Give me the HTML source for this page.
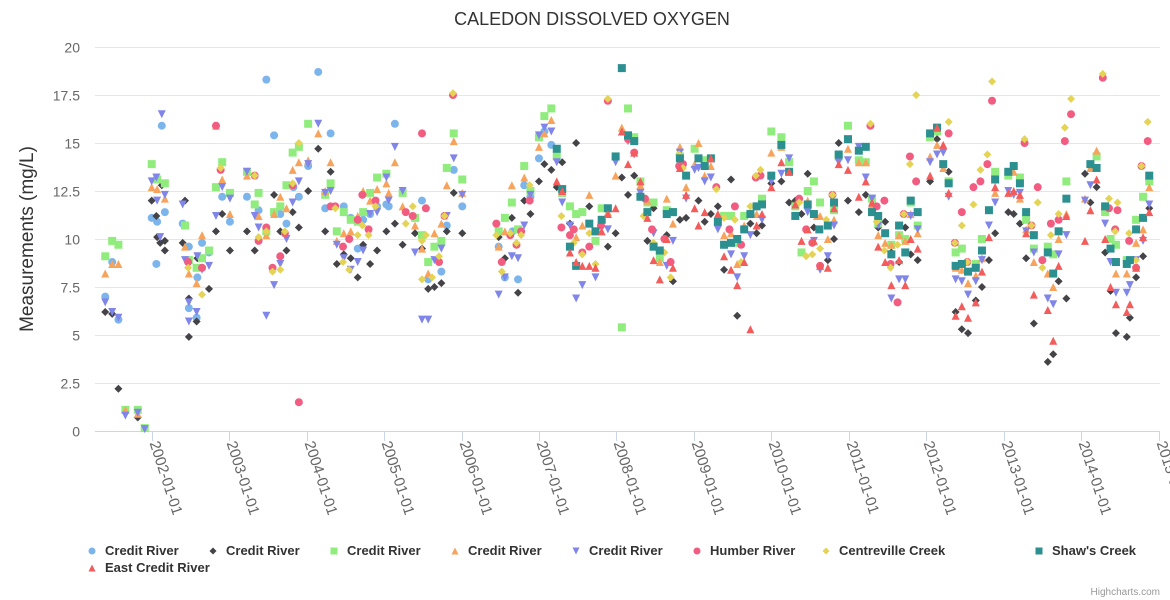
<!DOCTYPE html>
<html><head><meta charset="utf-8">
<style>
html,body{margin:0;padding:0;background:#fff;}
svg{display:block;font-family:"Liberation Sans",sans-serif;}
</style></head>
<body>
<svg id="chart" width="1170" height="600" viewBox="0 0 1170 600" xmlns="http://www.w3.org/2000/svg">
<text x="592" y="25" text-anchor="middle" font-size="18" fill="#333">CALEDON DISSOLVED OXYGEN</text>
<text transform="translate(33,239) rotate(-90)" text-anchor="middle" font-size="19" fill="#333">Measurements (mg/L)</text>
<g id="grid"></g>
<g id="xaxis"></g>
<g id="points"></g>
<g id="legend"></g>
<text x="1160" y="595" text-anchor="end" font-size="10" fill="#999">Highcharts.com</text>
</svg>
<script>
const yTicks = [0, 2.5, 5, 7.5, 10, 12.5, 15, 17.5, 20];
const yTickLabels = ["0","2.5","5","7.5","10","12.5","15","17.5","20"];
const xTickYears = [2002,2003,2004,2005,2006,2007,2008,2009,2010,2011,2012,2013,2014,2015];
const xTickLabels = ["2002-01-01","2003-01-01","2004-01-01","2005-01-01","2006-01-01","2007-01-01","2008-01-01","2009-01-01","2010-01-01","2011-01-01","2012-01-01","2013-01-01","2014-01-01","2015-01-01"];
const seriesNames = ["Credit River","Credit River","Credit River","Credit River","Credit River","Humber River","Centreville Creek","Shaw's Creek","East Credit River"];

const creditCircle = [[2001.40,7.0],[2001.49,8.8],[2001.57,5.8],[2002.06,8.7],[2002.0,11.1],[2002.07,10.9],[2002.13,15.9],[2002.17,11.4],[2002.40,10.8],[2002.48,9.6],[2002.48,6.4],[2002.58,5.9],[2002.59,8.0],[2002.65,9.8],[2002.74,9.3],[2002.91,12.2],[2003.01,10.9],[2003.23,12.2],[2003.38,11.5],[2003.48,18.3],[2003.58,15.4],[2003.66,11.3],[2003.74,10.8],[2003.83,12.7],[2003.90,12.2],[2004.02,13.8],[2004.15,18.7],[2004.31,15.5],[2004.24,11.6],[2004.48,11.7],[2004.57,11.1],[2004.66,9.5],[2004.73,11.0],[2004.82,11.3],[2004.91,11.7],[2005.03,11.8],[2005.06,11.7],[2005.14,16.0],[2005.49,12.0],[2005.57,7.9],[2005.74,8.3],[2005.81,10.7],[2005.90,13.6],[2006.01,11.7],[2006.48,9.6],[2006.56,8.0],[2006.73,7.9],[2006.66,10.4],[2006.81,12.8],[2006.89,12.2],[2007.0,14.2],[2007.07,15.6],[2007.16,14.9]];
const creditDiamond = [[2001.40,6.2],[2001.49,6.1],[2001.57,2.2],[2001.82,0.7],[2002.0,12.0],[2002.06,11.2],[2002.07,10.1],[2002.11,9.8],[2002.13,12.8],[2002.17,9.9],[2002.17,9.4],[2002.40,9.8],[2002.43,12.0],[2002.48,6.9],[2002.48,4.9],[2002.58,5.7],[2002.59,9.0],[2002.74,7.4],[2002.83,10.4],[2002.91,11.3],[2003.01,9.4],[2003.23,10.4],[2003.33,9.4],[2003.58,12.3],[2003.66,10.4],[2003.74,9.4],[2003.82,11.4],[2003.90,10.6],[2004.02,12.5],[2004.15,14.7],[2004.24,10.4],[2004.31,13.5],[2004.39,8.7],[2004.48,9.2],[2004.57,9.0],[2004.66,8.0],[2004.73,9.7],[2004.82,8.7],[2004.91,9.4],[2005.03,10.4],[2005.14,10.8],[2005.24,9.7],[2005.40,10.3],[2005.49,9.5],[2005.57,7.4],[2005.65,7.5],[2005.74,7.7],[2005.81,10.4],[2005.90,12.4],[2006.01,10.3],[2006.48,10.1],[2006.56,9.0],[2006.65,11.1],[2006.73,7.2],[2006.81,12.0],[2006.89,11.3],[2007.0,13.0],[2007.07,13.9],[2007.16,13.6],[2007.23,12.7],[2007.30,14.0],[2007.48,15.0],[2007.40,10.8],[2007.65,11.7],[2007.81,10.9],[2007.89,9.6],[2007.99,10.3],[2008.07,13.2],[2008.15,12.3],[2008.23,13.3],[2008.31,12.6],[2008.40,9.9],[2008.48,11.6],[2008.65,10.2],[2008.73,7.8],[2008.82,11.0],[2008.90,11.1],[2009.06,12.0],[2009.14,10.9],[2009.22,11.3],[2009.31,11.7],[2009.39,8.4],[2009.48,13.1],[2009.56,6.0],[2009.73,10.8],[2009.81,10.3],[2009.88,10.7],[2010.0,12.9],[2010.13,13.0],[2010.23,11.9],[2010.31,12.0],[2010.39,11.3],[2010.47,13.4],[2010.55,10.6],[2010.73,8.9],[2010.81,10.0],[2010.87,15.0],[2010.99,12.0],[2011.13,11.4],[2011.22,12.3],[2011.38,10.6],[2011.47,10.9],[2011.55,9.3],[2011.65,8.8],[2011.73,10.6],[2011.80,9.2],[2011.89,8.9],[2012.05,13.0],[2012.14,15.2],[2012.29,13.5],[2012.38,6.2],[2012.46,5.3],[2012.54,5.1],[2012.64,6.8],[2012.72,7.5],[2012.81,8.9],[2012.89,10.3],[2013.06,11.4],[2013.13,11.3],[2013.21,10.8],[2013.29,9.0],[2013.39,5.6],[2013.57,3.6],[2013.64,4.0],[2013.71,7.8],[2013.81,6.9],[2014.05,13.4],[2014.12,11.9],[2014.20,12.7],[2014.31,9.3],[2014.38,7.3],[2014.45,5.1],[2014.59,4.9],[2014.63,5.9],[2014.71,8.0],[2014.80,9.1],[2014.88,11.6]];
const creditSquare = [[2001.40,9.1],[2001.49,9.9],[2001.57,9.7],[2001.66,1.1],[2001.82,1.1],[2001.91,0.15],[2002.0,13.9],[2002.07,13.1],[2002.17,12.9],[2002.43,10.7],[2002.48,8.9],[2002.58,8.5],[2002.65,9.0],[2002.74,9.4],[2002.83,12.7],[2002.91,14.0],[2003.01,12.4],[2003.23,13.5],[2003.33,11.8],[2003.38,12.4],[2003.48,10.4],[2003.58,11.4],[2003.66,11.7],[2003.74,12.8],[2003.82,14.5],[2003.90,14.8],[2004.02,16.0],[2004.24,12.3],[2004.31,12.9],[2004.39,10.4],[2004.48,11.4],[2004.57,11.0],[2004.66,10.9],[2004.73,11.4],[2004.82,12.4],[2004.91,13.2],[2005.03,13.4],[2005.24,12.4],[2005.40,11.1],[2005.49,10.2],[2005.57,8.8],[2005.65,9.6],[2005.74,9.9],[2005.81,13.7],[2005.90,15.5],[2006.01,13.1],[2006.48,10.4],[2006.56,11.1],[2006.65,11.9],[2006.73,10.5],[2006.81,13.8],[2006.89,12.5],[2007.0,15.3],[2007.07,16.4],[2007.16,16.8],[2007.23,14.3],[2007.30,12.4],[2007.40,11.7],[2007.48,11.3],[2007.56,11.4],[2007.73,9.9],[2007.81,11.6],[2008.07,5.4],[2008.15,16.8],[2008.23,15.3],[2008.31,13.0],[2008.40,11.9],[2008.48,11.9],[2008.56,9.0],[2008.65,11.5],[2008.73,11.4],[2008.82,14.3],[2009.01,14.7],[2009.14,14.1],[2009.39,11.2],[2009.48,11.2],[2009.56,9.8],[2009.65,11.2],[2009.88,12.1],[2010.0,15.6],[2010.13,15.3],[2010.23,14.0],[2010.31,11.7],[2010.39,9.3],[2010.47,12.5],[2010.55,13.0],[2010.63,11.9],[2010.81,11.5],[2010.87,14.3],[2010.99,15.9],[2011.13,14.1],[2011.22,14.0],[2011.30,12.1],[2011.38,10.8],[2011.55,9.7],[2011.65,10.2],[2011.73,10.0],[2011.80,11.9],[2011.89,10.7],[2012.05,15.3],[2012.14,15.6],[2012.29,13.0],[2012.38,9.3],[2012.46,9.5],[2012.64,8.7],[2012.72,10.0],[2012.89,13.5],[2013.06,13.3],[2013.21,13.2],[2013.29,11.0],[2013.39,9.5],[2013.57,9.6],[2013.64,9.2],[2013.81,13.0],[2014.20,14.3],[2014.31,11.4],[2014.38,10.0],[2014.45,9.7],[2014.59,8.9],[2014.71,11.0],[2014.80,12.2],[2014.88,13.0]];
const creditTriangle = [[2001.40,8.2],[2001.49,8.7],[2001.57,8.7],[2001.66,1.1],[2001.82,0.9],[2002.0,12.7],[2002.07,12.6],[2002.17,12.1],[2002.43,9.6],[2002.48,8.2],[2002.58,7.7],[2002.65,10.2],[2002.83,15.9],[2002.91,13.1],[2003.01,11.3],[2003.23,13.3],[2003.38,11.2],[2003.48,10.2],[2003.58,11.3],[2003.66,12.2],[2003.74,11.6],[2003.82,13.6],[2003.90,14.0],[2004.02,14.1],[2004.15,15.5],[2004.31,14.0],[2004.24,12.5],[2004.39,9.9],[2004.48,10.3],[2004.57,10.4],[2004.66,11.2],[2004.73,12.5],[2004.82,12.0],[2004.91,12.6],[2005.03,12.9],[2005.06,12.4],[2005.14,14.0],[2005.24,11.7],[2005.40,10.7],[2005.49,9.5],[2005.57,8.2],[2005.65,10.3],[2005.74,10.8],[2005.81,12.8],[2005.90,15.1],[2006.01,12.4],[2006.48,9.6],[2006.56,10.4],[2006.65,12.8],[2006.81,13.2],[2007.0,14.8],[2007.07,15.5],[2007.16,16.2],[2007.48,10.1],[2007.56,10.7],[2007.65,12.3],[2007.73,10.4],[2007.89,11.4],[2007.99,13.3],[2008.07,15.8],[2008.31,12.8],[2008.40,12.0],[2008.56,8.8],[2008.65,12.1],[2008.73,10.8],[2008.82,14.8],[2008.90,12.7],[2009.01,13.9],[2009.06,15.0],[2009.14,13.3],[2009.22,13.8],[2009.39,10.2],[2009.48,10.3],[2009.56,8.7],[2009.65,10.7],[2009.73,11.4],[2009.81,11.3],[2010.0,14.5],[2010.13,14.8],[2010.31,11.8],[2010.47,12.0],[2010.59,11.2],[2010.63,11.2],[2010.73,10.0],[2010.81,11.0],[2010.99,14.7],[2011.13,14.0],[2011.22,14.0],[2011.30,11.8],[2011.38,10.2],[2011.47,9.8],[2011.55,9.7],[2011.65,10.2],[2011.73,9.9],[2011.80,11.3],[2011.89,10.3],[2012.05,14.3],[2012.14,14.9],[2012.22,13.7],[2012.38,8.5],[2012.46,8.4],[2012.54,7.7],[2012.64,8.1],[2012.72,9.0],[2012.89,12.4],[2013.13,13.5],[2013.21,12.1],[2013.29,10.5],[2013.39,8.8],[2013.57,8.2],[2013.64,7.5],[2013.71,10.0],[2013.81,11.3],[2014.05,12.1],[2014.12,13.7],[2014.20,14.6],[2014.31,11.7],[2014.45,8.2],[2014.59,8.2],[2014.71,9.8],[2014.80,10.5],[2014.88,12.7]];
const creditTriangleDown = [[2001.40,6.7],[2001.49,6.2],[2001.57,5.9],[2001.66,0.8],[2001.82,0.95],[2001.91,0.1],[2002.0,13.0],[2002.06,13.2],[2002.07,12.0],[2002.13,16.5],[2002.17,12.3],[2002.11,10.1],[2002.40,11.8],[2002.43,8.9],[2002.48,6.7],[2002.48,5.7],[2002.58,6.2],[2002.59,9.1],[2002.65,8.4],[2002.74,8.6],[2002.83,11.2],[2002.91,12.7],[2003.01,12.1],[2003.23,13.5],[2003.33,11.2],[2003.38,10.6],[2003.48,6.0],[2003.58,7.6],[2003.66,8.7],[2003.74,10.0],[2003.82,11.9],[2003.90,13.0],[2004.02,13.9],[2004.15,16.0],[2004.24,12.4],[2004.31,12.5],[2004.39,9.7],[2004.48,9.0],[2004.57,8.4],[2004.66,8.8],[2004.73,9.4],[2004.82,11.3],[2004.91,11.4],[2005.03,13.2],[2005.06,12.0],[2005.14,14.8],[2005.24,12.5],[2005.40,9.3],[2005.49,5.8],[2005.57,5.8],[2005.65,8.9],[2005.74,9.5],[2005.81,11.2],[2005.90,14.2],[2006.01,12.3],[2006.48,7.1],[2006.56,8.0],[2006.65,9.1],[2006.73,9.0],[2006.81,10.7],[2006.89,12.3],[2007.0,15.4],[2007.07,15.8],[2007.16,15.6],[2007.23,14.0],[2007.30,11.9],[2007.40,10.7],[2007.48,6.9],[2007.56,7.6],[2007.73,8.0],[2007.89,10.5],[2007.99,14.0],[2008.15,15.1],[2008.23,14.4],[2008.31,12.4],[2008.48,10.3],[2008.56,9.4],[2008.65,8.6],[2008.73,9.9],[2008.82,14.5],[2008.90,12.1],[2009.01,13.6],[2009.06,13.7],[2009.14,13.0],[2009.22,13.2],[2009.31,10.5],[2009.48,9.2],[2009.56,8.0],[2009.65,9.1],[2009.73,10.2],[2009.88,11.0],[2010.0,13.0],[2010.13,13.4],[2010.23,14.2],[2010.47,11.4],[2010.55,9.9],[2010.63,8.4],[2010.73,9.1],[2010.81,10.7],[2010.87,14.0],[2010.99,14.1],[2011.13,14.8],[2011.22,13.2],[2011.30,12.1],[2011.38,10.7],[2011.55,6.9],[2011.65,7.9],[2011.73,7.9],[2011.80,11.2],[2011.89,10.5],[2012.05,14.0],[2012.14,14.4],[2012.22,14.5],[2012.29,12.2],[2012.38,7.9],[2012.46,7.8],[2012.54,7.1],[2012.64,7.8],[2012.72,8.9],[2012.81,10.7],[2012.89,11.9],[2013.06,12.5],[2013.13,12.3],[2013.21,12.4],[2013.29,10.4],[2013.39,9.3],[2013.57,6.9],[2013.64,6.6],[2013.71,9.2],[2013.81,10.2],[2014.05,12.0],[2014.12,12.8],[2014.20,13.7],[2014.31,10.8],[2014.38,8.8],[2014.45,7.2],[2014.59,7.2],[2014.63,7.6],[2014.71,8.9],[2014.80,9.9],[2014.88,11.8]];
const humberRiver = [[2002.47,8.8],[2002.65,8.5],[2002.83,15.9],[2002.89,13.6],[2003.33,13.3],[2003.48,10.6],[2003.38,9.9],[2003.66,9.1],[2003.56,8.5],[2003.72,10.3],[2003.82,12.8],[2003.90,1.5],[2004.31,11.7],[2004.37,11.7],[2004.47,9.6],[2004.55,10.0],[2004.66,11.0],[2004.72,12.3],[2004.80,10.5],[2004.89,12.0],[2005.28,11.4],[2005.37,11.2],[2005.49,15.5],[2005.54,11.6],[2005.71,8.8],[2005.78,11.2],[2005.89,17.5],[2006.45,10.8],[2006.52,8.8],[2006.63,10.2],[2006.71,9.7],[2006.77,10.4],[2006.88,12.0],[2007.29,10.6],[2007.40,10.2],[2007.45,10.5],[2007.56,9.3],[2007.65,9.6],[2007.80,10.7],[2007.89,17.2],[2008.15,15.2],[2008.23,14.5],[2008.31,12.2],[2008.37,12.1],[2008.46,10.5],[2008.62,10.0],[2008.70,8.8],[2008.81,13.8],[2008.86,13.9],[2009.29,12.7],[2009.46,10.5],[2009.53,11.7],[2009.61,9.7],[2009.80,13.2],[2009.86,13.3],[2010.36,12.1],[2010.45,10.5],[2010.53,9.8],[2010.63,8.6],[2010.79,12.3],[2011.28,15.9],[2011.36,11.7],[2011.46,12.0],[2011.54,8.7],[2011.63,6.7],[2011.71,11.3],[2011.79,14.3],[2011.87,13.0],[2012.29,15.5],[2012.37,9.8],[2012.46,11.4],[2012.53,8.8],[2012.61,12.7],[2012.70,13.0],[2012.79,13.9],[2012.85,17.2],[2013.27,15.0],[2013.36,10.7],[2013.44,12.7],[2013.50,8.9],[2013.61,10.8],[2013.71,11.0],[2013.79,15.1],[2013.87,16.5],[2014.28,18.4],[2014.36,11.6],[2014.47,11.5],[2014.44,10.5],[2014.62,9.9],[2014.71,8.5],[2014.78,13.8],[2014.86,15.1]];
const centrevilleCreek = [[2002.47,8.5],[2002.65,7.1],[2002.89,13.7],[2003.33,13.3],[2003.38,10.1],[2003.48,10.4],[2003.56,8.3],[2003.66,8.4],[2003.72,10.4],[2003.82,12.9],[2003.90,15.0],[2004.37,11.6],[2004.47,8.8],[2004.55,8.4],[2004.66,10.2],[2004.72,10.7],[2004.80,10.2],[2004.89,11.7],[2005.28,10.8],[2005.37,11.7],[2005.49,9.9],[2005.54,10.2],[2005.49,7.9],[2005.62,8.0],[2005.71,9.1],[2005.78,11.2],[2005.89,17.6],[2006.45,10.2],[2006.52,8.3],[2006.63,10.3],[2006.71,9.8],[2006.77,10.2],[2006.88,12.8],[2007.29,11.2],[2007.45,9.8],[2007.56,9.2],[2007.65,10.3],[2007.73,8.7],[2007.89,17.3],[2008.35,11.2],[2008.48,9.8],[2008.55,9.4],[2008.62,9.3],[2008.70,8.0],[2008.81,14.4],[2008.86,13.7],[2009.29,12.6],[2009.39,11.1],[2009.53,11.0],[2009.61,8.8],[2009.73,11.7],[2009.80,13.3],[2009.86,13.6],[2010.36,11.9],[2010.45,9.1],[2010.53,9.2],[2010.63,9.5],[2010.71,11.0],[2010.79,12.3],[2011.28,16.0],[2011.36,10.9],[2011.46,9.4],[2011.54,8.5],[2011.63,9.7],[2011.71,11.3],[2011.79,13.9],[2011.87,17.5],[2012.29,16.1],[2012.37,9.8],[2012.46,10.7],[2012.53,8.8],[2012.61,11.8],[2012.70,13.6],[2012.79,14.4],[2012.85,18.2],[2013.27,15.2],[2013.36,10.7],[2013.44,11.9],[2013.50,8.5],[2013.61,10.2],[2013.71,11.3],[2013.79,15.8],[2013.87,17.3],[2014.28,18.6],[2014.36,12.1],[2014.44,10.4],[2014.47,11.9],[2014.62,10.3],[2014.71,8.9],[2014.78,13.8],[2014.86,16.1]];
const shawsCreek = [[2007.23,14.7],[2007.30,12.6],[2007.40,9.6],[2007.48,8.6],[2007.65,10.8],[2007.73,10.4],[2007.81,11.0],[2007.89,11.6],[2007.99,14.3],[2008.07,18.9],[2008.15,15.4],[2008.23,15.1],[2008.31,12.2],[2008.40,11.4],[2008.48,9.6],[2008.56,9.4],[2008.65,11.3],[2008.73,11.4],[2008.82,14.2],[2008.90,13.3],[2009.06,14.2],[2009.14,13.8],[2009.22,14.2],[2009.31,10.9],[2009.39,9.7],[2009.48,9.8],[2009.56,10.0],[2009.65,10.5],[2009.73,11.3],[2009.81,11.7],[2009.88,11.8],[2010.0,13.3],[2010.13,14.9],[2010.23,13.5],[2010.31,11.2],[2010.47,11.8],[2010.55,11.3],[2010.62,10.5],[2010.73,10.7],[2010.81,11.9],[2010.87,14.4],[2010.99,15.2],[2011.13,14.6],[2011.22,14.8],[2011.30,11.4],[2011.38,11.2],[2011.47,10.3],[2011.55,9.2],[2011.65,10.7],[2011.73,9.3],[2011.80,12.0],[2011.89,11.4],[2012.05,15.5],[2012.14,15.8],[2012.22,13.9],[2012.29,12.9],[2012.38,8.6],[2012.46,8.7],[2012.54,8.3],[2012.64,8.5],[2012.72,9.4],[2012.81,11.5],[2012.89,13.1],[2013.06,13.5],[2013.13,13.8],[2013.21,12.9],[2013.29,11.4],[2013.39,10.2],[2013.57,9.3],[2013.64,8.2],[2013.71,10.4],[2013.81,12.1],[2014.12,13.9],[2014.20,13.7],[2014.31,11.7],[2014.38,9.5],[2014.45,8.8],[2014.59,8.7],[2014.63,8.9],[2014.71,10.5],[2014.80,11.1],[2014.88,13.3]];
const eastCreditRiver = [[2007.23,13.0],[2007.30,12.5],[2007.40,9.3],[2007.48,8.8],[2007.56,8.6],[2007.65,8.6],[2007.73,8.5],[2007.81,10.4],[2007.89,11.3],[2007.99,11.6],[2008.07,15.6],[2008.15,13.9],[2008.23,14.5],[2008.31,13.0],[2008.40,11.1],[2008.48,8.9],[2008.56,7.9],[2008.65,10.0],[2008.73,8.5],[2008.82,13.7],[2008.90,12.3],[2009.01,11.6],[2009.06,10.7],[2009.14,11.4],[2009.22,14.2],[2009.31,11.3],[2009.39,9.1],[2009.48,8.4],[2009.56,7.6],[2009.65,8.8],[2009.73,5.3],[2009.81,10.7],[2009.88,11.3],[2010.0,12.7],[2010.13,14.0],[2010.23,13.5],[2010.31,11.8],[2010.39,9.9],[2010.47,10.5],[2010.55,9.9],[2010.63,8.6],[2010.73,8.5],[2010.81,11.6],[2010.87,13.9],[2010.99,13.6],[2011.13,12.2],[2011.22,13.0],[2011.30,11.9],[2011.38,9.6],[2011.47,8.8],[2011.55,7.6],[2011.65,8.9],[2011.73,7.6],[2011.80,10.0],[2011.89,9.5],[2012.05,13.3],[2012.14,15.8],[2012.22,14.9],[2012.29,12.4],[2012.38,6.0],[2012.46,6.5],[2012.54,5.9],[2012.64,6.7],[2012.72,8.3],[2012.81,10.1],[2012.89,12.7],[2013.06,12.4],[2013.13,12.5],[2013.21,12.3],[2013.29,10.3],[2013.39,7.1],[2013.57,6.3],[2013.64,4.7],[2013.71,8.6],[2013.81,11.2],[2014.05,9.9],[2014.12,11.5],[2014.20,13.1],[2014.31,10.0],[2014.38,7.5],[2014.45,6.6],[2014.59,6.2],[2014.63,6.6],[2014.71,8.5],[2014.80,10.1],[2014.88,11.4]];

const NS = "http://www.w3.org/2000/svg";
const plotLeft = 95, plotRight = 1160, plotTop = 47, plotBottom = 431;
const yMax = 20;
function yScale(v){ return plotBottom - v / yMax * (plotBottom - plotTop); }
function xScale(yr){ return 151.7 + (yr - 2002) * 77.45; }
function mk(tag, attrs, parent){ const e = document.createElementNS(NS, tag); for (const k in attrs) e.setAttribute(k, attrs[k]); parent.appendChild(e); return e; }

const grid = document.getElementById('grid');
yTicks.forEach((t, i) => {
  const y = Math.round(yScale(t)) + 0.5;
  if (t > 0) {
    const l = mk('line', {x1: plotLeft, x2: plotRight, y1: y, y2: y, stroke: '#e6e6e6', 'stroke-width': 1}, grid);
    
    
  }
  const tx = mk('text', {x: 80, y: y + 5, 'text-anchor': 'end', 'font-size': 14, fill: '#666'}, grid);
  tx.textContent = yTickLabels[i];
  
  
});

const xaxis = document.getElementById('xaxis');
const axl = mk('line', {x1: plotLeft, x2: plotRight, y1: plotBottom + 0.5, y2: plotBottom + 0.5, stroke: '#ccd6eb', 'stroke-width': 1}, xaxis);


xTickYears.forEach((yr, i) => {
  const x = Math.round(xScale(yr)) + 0.5;
  const tk = mk('line', {x1: x, x2: x, y1: plotBottom, y2: plotBottom + 10, stroke: '#ccd6eb', 'stroke-width': 1}, xaxis);
  
  
  const tx = mk('text', {transform: 'translate(' + (x - 3) + ',' + (plotBottom + 12) + ') rotate(72)', 'font-size': 15, fill: '#666'}, xaxis);
  tx.textContent = xTickLabels[i];
  
  
});

const colors = ['#7cb5ec','#434348','#90ed7d','#f7a35c','#8085e9','#f15c80','#e4d354','#2b908f','#f45b5b'];
const symbols = ['circle','diamond','square','triangle','triangle-down','circle','diamond','square','triangle'];
const allSeries = [creditCircle, creditDiamond, creditSquare, creditTriangle, creditTriangleDown, humberRiver, centrevilleCreek, shawsCreek, eastCreditRiver];

function marker(sym, cx, cy, color, parent, r){
  r = r || 4;
  if (sym === 'circle') return mk('circle', {cx: cx, cy: cy, r: r, fill: color}, parent);
  if (sym === 'square') return mk('rect', {x: cx - r, y: cy - r, width: 2*r, height: 2*r, fill: color}, parent);
  if (sym === 'diamond') return mk('path', {d: `M${cx} ${cy-r}L${cx+r} ${cy}L${cx} ${cy+r}L${cx-r} ${cy}Z`, fill: color}, parent);
  if (sym === 'triangle') return mk('path', {d: `M${cx} ${cy-r}L${cx+r} ${cy+r}L${cx-r} ${cy+r}Z`, fill: color}, parent);
  return mk('path', {d: `M${cx-r} ${cy-r}L${cx+r} ${cy-r}L${cx} ${cy+r}Z`, fill: color}, parent);
}

const pts = document.getElementById('points');
allSeries.forEach((data, si) => {
  const g = mk('g', {}, pts);
  
  
  data.forEach(p => {
    const m = marker(symbols[si], xScale(p[0]), yScale(p[1]), colors[si], g);
    
    
  });
});

const legend = document.getElementById('legend');
const legendPos = [[92,555],[213,555],[334,555],[455,555],[576,555],[697,555],[826,555],[1039,555],[92,572]];
seriesNames.forEach((name, i) => {
  const g = mk('g', {}, legend);
  
  
  const [lx, ly] = legendPos[i];
  marker(symbols[i], lx, ly - 4, colors[i], g, 3.5);
  const t = mk('text', {x: lx + 13, y: ly, 'font-size': 13, 'font-weight': 'bold', fill: '#333'}, g);
  t.textContent = name;
});
</script>
</body></html>
